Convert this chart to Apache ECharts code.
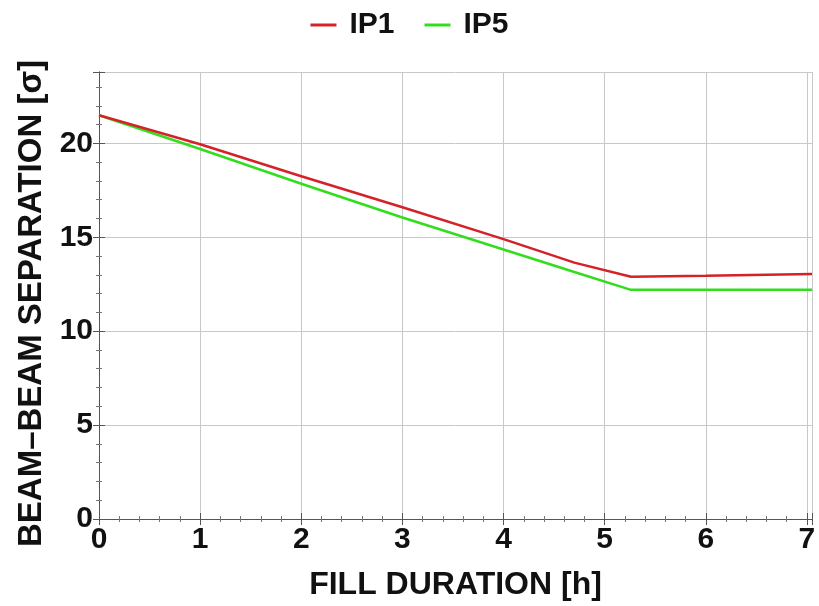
<!DOCTYPE html>
<html><head><meta charset="utf-8">
<script src="https://cdn.jsdelivr.net/npm/echarts@6/dist/echarts.min.js"></script>
<style>html,body{margin:0;padding:0;background:#fff}#c{width:819px;height:606px}</style>
</head><body><div id="c"></div>
<script>
const hours = [0, 1, 2, 3, 4, 4.7, 5.26, 6, 7.05];
const ip1 = [21.5, 19.95, 18.25, 16.6, 14.9, 13.65, 12.9, 12.95, 13.05];
const ip5 = [21.5, 19.7, 17.85, 16.05, 14.35, 13.15, 12.2, 12.2, 12.2];
const xTicks = [0, 1, 2, 3, 4, 5, 6, 7];
const yTicks = [0, 5, 10, 15, 20];

const font = '"Liberation Sans", Arial, sans-serif';
const chart = echarts.init(document.getElementById('c'));
const axisCommon = {
  axisLine: {show: true, lineStyle: {color: '#555', width: 1}},
  axisTick: {show: true, inside: true, length: 6, lineStyle: {color: '#555'}},
  minorTick: {show: true, splitNumber: 5, length: 3, lineStyle: {color: '#777'}},
};
chart.setOption({
  animation: false,
  legend: {
    top: 5, left: 'center', itemWidth: 26, itemHeight: 3, itemGap: 30,
    icon: 'rect',
    textStyle: {fontFamily: font, fontWeight: 'bold', fontSize: 30, color: '#111', padding: [0, 0, 0, 8]},
    data: ['IP1', 'IP5']
  },
  grid: {left: 99, right: 7, top: 72, bottom: 85, containLabel: false},
  xAxis: [
    Object.assign({
      type: 'value', min: 0, max: 7.05, interval: 1,
      name: 'FILL DURATION [h]', nameLocation: 'middle', nameGap: 50,
      nameTextStyle: {fontFamily: font, fontWeight: 'bold', fontSize: 32, color: '#111'},
      axisLabel: {fontFamily: font, fontWeight: 'bold', fontSize: 30, color: '#111', margin: 6,
        formatter: v => xTicks.includes(v) ? String(v) : '', showMaxLabel: false},
      splitLine: {show: true, lineStyle: {color: '#c8c8c8', width: 1}},
    }, axisCommon),
    Object.assign({
      type: 'value', min: 0, max: 7.05, interval: 1, position: 'top',
      axisLabel: {show: false}, splitLine: {show: false}
    }, axisCommon)
  ],
  yAxis: [
    Object.assign({
      type: 'value', min: 0, max: 23.8, interval: 5,
      name: 'BEAM\u2013BEAM SEPARATION [\u03c3]', nameLocation: 'middle', nameGap: 50, nameRotate: 90,
      nameTextStyle: {fontFamily: font, fontWeight: 'bold', fontSize: 33, color: '#111', padding: [0, 16, 0, 0]},
      axisLabel: {fontFamily: font, fontWeight: 'bold', fontSize: 30, color: '#111', margin: 6,
        formatter: v => yTicks.includes(v) ? String(v) : ''},
      splitLine: {show: true, lineStyle: {color: '#c8c8c8', width: 1}},
    }, axisCommon),
    Object.assign({
      type: 'value', min: 0, max: 23.8, interval: 5, position: 'right',
      axisLabel: {show: false}, splitLine: {show: false}
    }, axisCommon)
  ],
  series: [
    {name: 'IP1', type: 'line', data: hours.map((h, i) => [h, ip1[i]]), showSymbol: false,
      lineStyle: {color: '#d42228', width: 2.5}, itemStyle: {color: '#d42228'}, z: 3},
    {name: 'IP5', type: 'line', data: hours.map((h, i) => [h, ip5[i]]), showSymbol: false,
      lineStyle: {color: '#33dd1e', width: 2.5}, itemStyle: {color: '#33dd1e'}, z: 2}
  ]
});
</script></body></html>
